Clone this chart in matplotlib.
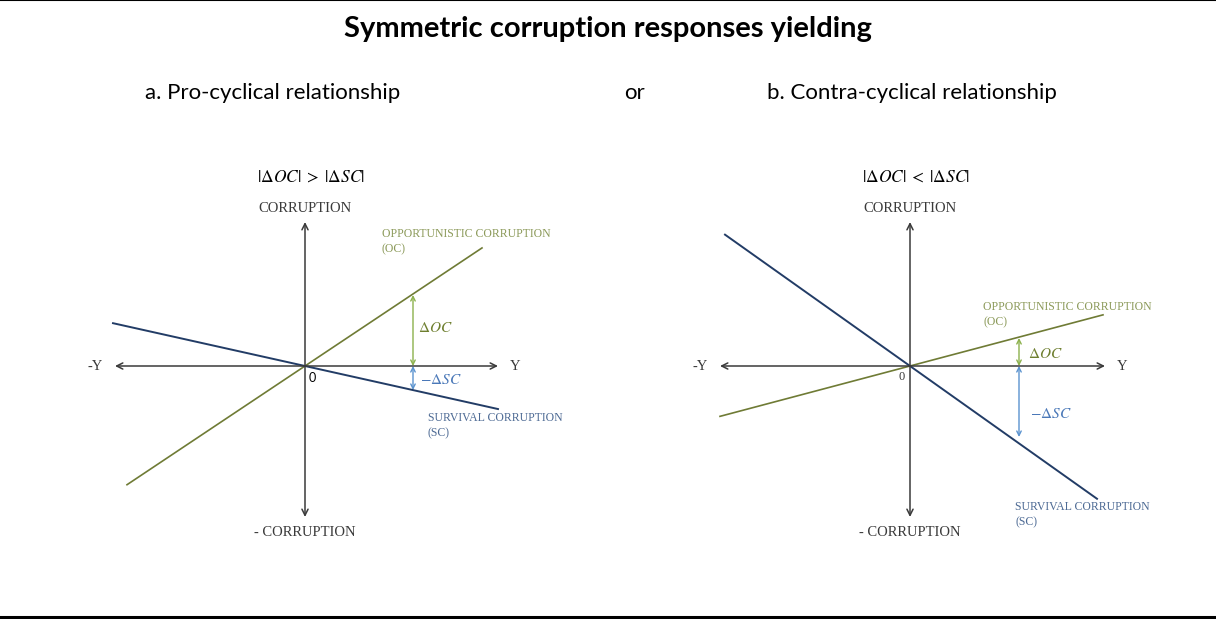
import matplotlib
matplotlib.use("Agg")
import matplotlib.pyplot as plt
import numpy as np

plt.rcParams['mathtext.fontset'] = 'stix'

# panel data: axis extents, line slopes and x-ranges, delta arrows
panels = ["a", "b"]
subtitles = ["a. Pro-cyclical relationship", "b. Contra-cyclical relationship"]
conditions = [r"$|\Delta OC|\;>\;|\Delta SC|$", r"$|\Delta OC|\;<\;|\Delta SC|$"]
x_axis_ext = [(-1.90, 1.93), (-1.90, 1.95)]
y_axis_ext = [(-1.51, 1.44), (-1.51, 1.44)]
oc_slope = [0.667, 0.265]
oc_xrange = [(-1.78, 1.77), (-1.90, 1.93)]
sc_slope = [-0.223, -0.71]
sc_xrange = [(-1.92, 1.93), (-1.85, 1.87)]
delta_x = [1.08, 1.09]
doc_end = [0.71, 0.28]
dsc_end = [-0.24, -0.71]

AXIS_C = "#3a3a3a"
OC_LINE = "#6f7b35"
OC_TEXT = "#8c9a5a"
SC_LINE = "#223c66"
SC_TEXT = "#4d6a94"
DOC_ARROW = "#8cb14c"
DOC_TEXT = "#6e7f2f"
DSC_ARROW = "#5b93cf"
DSC_TEXT = "#4a78b8"

fig = plt.figure(figsize=(12.16, 6.19), dpi=100)

# frame lines top and bottom
fig.add_artist(plt.Line2D([0, 1], [0.9995, 0.9995], color="black", lw=1.5))
fig.add_artist(plt.Line2D([0, 1], [0.0025, 0.0025], color="black", lw=2.2))

fig.text(0.5, 1 - 29 / 619, "Symmetric corruption responses yielding",
         ha="center", va="center", fontsize=21, fontweight="bold", family="Lato")
fig.text(273 / 1216, 1 - 93 / 619, subtitles[0], ha="center", va="center",
         fontsize=16, family="Lato")
fig.text(634 / 1216, 1 - 93 / 619, "or", ha="center", va="center",
         fontsize=16, family="Lato")
fig.text(912 / 1216, 1 - 93 / 619, subtitles[1], ha="center", va="center",
         fontsize=16, family="Lato")

origins = [(305, 366), (910, 366)]
serif = "Liberation Serif"

for i, p in enumerate(panels):
    ox, oy = origins[i]
    left = 0 if i == 0 else 608
    ax = fig.add_axes([left / 1216, 0, 608 / 1216, 1])
    ax.set_xlim((left - ox) / 100, (left + 608 - ox) / 100)
    ax.set_ylim((oy - 619) / 100, oy / 100)
    ax.axis("off")

    # coordinate axes with arrowheads
    x0, x1 = x_axis_ext[i]
    y0, y1 = y_axis_ext[i]
    ax.annotate("", xy=(x1, 0), xytext=(x0, 0),
                arrowprops=dict(arrowstyle="<->", color=AXIS_C, lw=1.1,
                                shrinkA=0, shrinkB=0, mutation_scale=11))
    ax.annotate("", xy=(0, y1), xytext=(0, y0),
                arrowprops=dict(arrowstyle="<->", color=AXIS_C, lw=1.1,
                                shrinkA=0, shrinkB=0, mutation_scale=11))

    # corruption lines
    xs = np.array(oc_xrange[i])
    ax.plot(xs, oc_slope[i] * xs, color=OC_LINE, lw=1.2)
    xs = np.array(sc_xrange[i])
    ax.plot(xs, sc_slope[i] * xs, color=SC_LINE, lw=1.4)

    # delta arrows
    dx = delta_x[i]
    ax.annotate("", xy=(dx, doc_end[i]), xytext=(dx, 0),
                arrowprops=dict(arrowstyle="<->", color=DOC_ARROW, lw=1.0,
                                shrinkA=0, shrinkB=0, mutation_scale=8))
    ax.annotate("", xy=(dx, dsc_end[i]), xytext=(dx, 0),
                arrowprops=dict(arrowstyle="<->", color=DSC_ARROW, lw=1.0,
                                shrinkA=0, shrinkB=0, mutation_scale=8))

    # labels
    ax.text(x0 - 0.12, 0, "-Y", ha="right", va="center", fontsize=10.5,
            family=serif, color=AXIS_C)
    ax.text(x1 + 0.12, 0, "Y", ha="left", va="center", fontsize=10.5,
            family=serif, color=AXIS_C)
    ax.text(0, y1 + 0.14, "CORRUPTION", ha="center", va="center",
            fontsize=10.5, family=serif, color=AXIS_C)
    ax.text(0, y0 - 0.15, "- CORRUPTION", ha="center", va="center",
            fontsize=10.5, family=serif, color=AXIS_C)
    ax.text(0.06, 1.89, conditions[i], ha="center", va="center",
            fontsize=12.5, color="black")
    if i == 0:
        ax.text(0.04, -0.12, "0", ha="left", va="center", fontsize=9,
                family="Lato", color="black")
        ax.text(dx + 0.05, 0.39, r"$\Delta OC$", ha="left", va="center",
                fontsize=11, color=DOC_TEXT)
        ax.text(dx + 0.07, -0.13, r"$-\Delta SC$", ha="left", va="center",
                fontsize=11, color=DSC_TEXT)
        oc_lab = (0.77, 1.32)
        sc_lab = (1.23, -0.52)
    else:
        ax.text(-0.05, -0.11, "0", ha="right", va="center", fontsize=9,
                family=serif, color=AXIS_C)
        ax.text(dx + 0.09, 0.13, r"$\Delta OC$", ha="left", va="center",
                fontsize=11, color=DOC_TEXT)
        ax.text(dx + 0.11, -0.48, r"$-\Delta SC$", ha="left", va="center",
                fontsize=11, color=DSC_TEXT)
        oc_lab = (0.73, 0.59)
        sc_lab = (1.05, -1.41)
    ax.text(oc_lab[0], oc_lab[1], "OPPORTUNISTIC CORRUPTION", ha="left",
            va="center", fontsize=8.5, family=serif, color=OC_TEXT)
    ax.text(oc_lab[0], oc_lab[1] - 0.155, "(OC)", ha="left",
            va="center", fontsize=8.5, family=serif, color=OC_TEXT)
    ax.text(sc_lab[0], sc_lab[1], "SURVIVAL CORRUPTION", ha="left",
            va="center", fontsize=8.5, family=serif, color=SC_TEXT)
    ax.text(sc_lab[0], sc_lab[1] - 0.155, "(SC)", ha="left",
            va="center", fontsize=8.5, family=serif, color=SC_TEXT)

fig.savefig("out.png", dpi=100)
